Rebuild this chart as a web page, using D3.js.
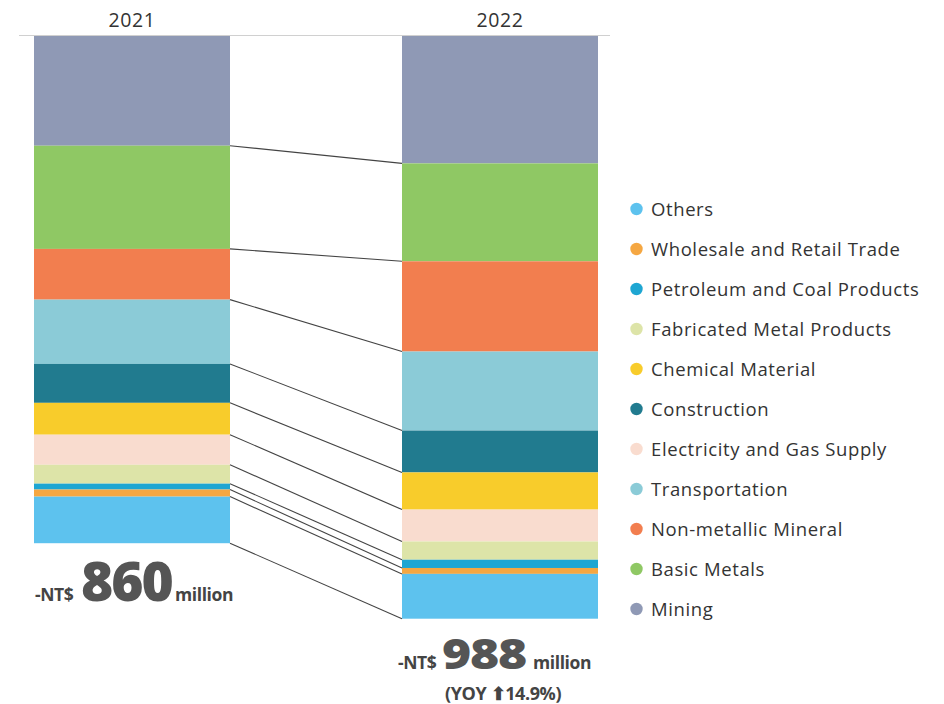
<!DOCTYPE html>
<html>
<head>
<meta charset="utf-8">
<script src="https://cdn.jsdelivr.net/npm/d3@7"></script>
<style>
  html, body { margin: 0; padding: 0; background: #fff; }
  svg { display: block; }
  text { font-family: "Open Sans", Lato, sans-serif; }
</style>
</head>
<body>
<svg id="chart" width="944" height="704"></svg>
<script>
// Categories, listed from the top of each stacked column to the bottom
const categories = [
  "Mining", "Basic Metals", "Non-metallic Mineral", "Transportation",
  "Construction", "Chemical Material", "Electricity and Gas Supply",
  "Fabricated Metal Products", "Petroleum and Coal Products",
  "Wholesale and Retail Trade", "Others"
];
const years = ["2021", "2022"];
// Amounts in NT$ million, same order as categories
const values2021 = [186, 175, 86, 109, 66, 54, 51, 32, 10, 12, 79];
const values2022 = [216, 166, 153, 134, 71, 63, 54, 31, 14, 10, 76];
const totals = [860, 988];
const yoyLabel = "(YOY \u2B0614.9%)";
// Legend order, top to bottom
const legendOrder = [
  "Others", "Wholesale and Retail Trade", "Petroleum and Coal Products",
  "Fabricated Metal Products", "Chemical Material", "Construction",
  "Electricity and Gas Supply", "Transportation", "Non-metallic Mineral",
  "Basic Metals", "Mining"
];
const colors = [
  "#8f99b5", "#8fc864", "#f27e4f", "#8bcbd7", "#217b8f", "#f8cc2b",
  "#f9dccf", "#dde4a8", "#1ea6d2", "#f5a742", "#5dc2ee"
];

const svg = d3.select("#chart");
const color = d3.scaleOrdinal().domain(categories).range(colors);

// Row records for the stack
const rows = years.map((yr, i) => {
  const r = { year: yr };
  const vals = i === 0 ? values2021 : values2022;
  categories.forEach((c, j) => r[c] = vals[j]);
  return r;
});
const series = d3.stack().keys(categories)(rows);

const x = d3.scaleBand().domain(years).range([34, 598]).paddingInner(0.4674).paddingOuter(0);
// Stack grows downward from the top rule
const y = d3.scaleLinear().domain([0, 988]).range([36, 618.7]);

// Top rule and year labels
svg.append("line")
  .attr("x1", 19).attr("x2", 610).attr("y1", 35.5).attr("y2", 35.5)
  .attr("stroke", "#d0d0d0").attr("stroke-width", 1);

svg.selectAll("text.year").data(years).join("text")
  .attr("class", "year")
  .attr("x", d => x(d) + x.bandwidth() / 2)
  .attr("y", 27)
  .attr("text-anchor", "middle")
  .attr("font-size", 19.5)
  .attr("letter-spacing", 0.6)
  .attr("fill", "#333")
  .text(d => d);

// Stacked segments
svg.append("g").selectAll("g").data(series).join("g")
  .attr("fill", d => color(d.key))
  .selectAll("rect").data(d => d).join("rect")
  .attr("x", d => x(d.data.year))
  .attr("width", x.bandwidth())
  .attr("y", d => y(d[0]))
  .attr("height", d => y(d[1]) - y(d[0]));

// Connectors between matching boundaries of the two columns
const boundaries = series.map(s => [s[0][1], s[1][1]]);
svg.append("g").selectAll("line").data(boundaries).join("line")
  .attr("x1", x("2021") + x.bandwidth())
  .attr("x2", x("2022"))
  .attr("y1", d => y(d[0]))
  .attr("y2", d => y(d[1]))
  .attr("stroke", "#444")
  .attr("stroke-width", 1.1);

// Total labels below each column: prefix, big figure, unit
function smallBold(xPos, yPos, str, size) {
  return svg.append("text")
    .attr("x", xPos).attr("y", yPos)
    .attr("font-weight", 700).attr("font-size", size || 17.5).attr("fill", "#444")
    .attr("letter-spacing", -0.4)
    .text(str);
}
function bigFigure(xPos, yPos, str, size, spacing, stretch) {
  return svg.append("text")
    .attr("transform", `translate(${xPos},${yPos}) scale(${stretch},1)`)
    .attr("font-family", "Lato, sans-serif")
    .attr("font-weight", 900).attr("font-size", size)
    .attr("letter-spacing", spacing)
    .attr("fill", "#555")
    .text(str);
}
smallBold(35, 601, "-NT$");
bigFigure(81, 601, totals[0], 54, -2, 1.02);
smallBold(175, 601, "million");

smallBold(398, 669, "-NT$");
bigFigure(442, 669, totals[1], 43, -1, 1.16);
smallBold(533, 669, "million");

smallBold(445, 700, yoyLabel, 18);

// Legend
const legend = svg.append("g").selectAll("g").data(legendOrder).join("g")
  .attr("transform", (d, i) => `translate(636.5, ${209 + i * 40})`);
legend.append("circle").attr("r", 6.2).attr("fill", d => color(d));
legend.append("text")
  .attr("x", 14.5).attr("y", 6.5)
  .attr("font-size", 18.5)
  .attr("letter-spacing", 0.6)
  .attr("fill", "#333")
  .text(d => d);
</script>
</body>
</html>
